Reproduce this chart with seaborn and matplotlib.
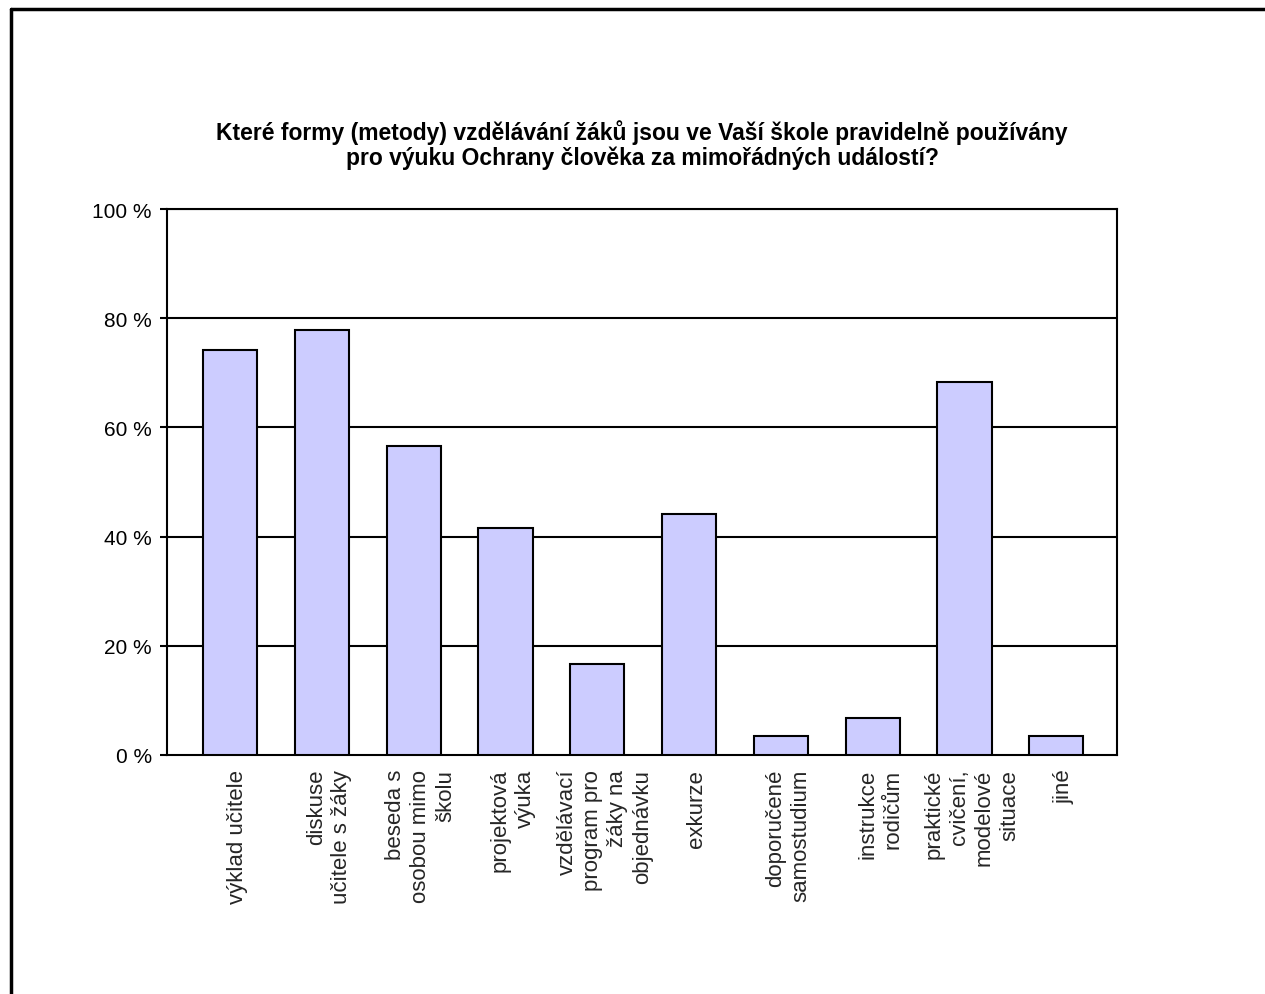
import numpy as np
import pandas as pd
import matplotlib
matplotlib.use("Agg")
import matplotlib.pyplot as plt
import seaborn as sns
from matplotlib.lines import Line2D


# Data (percent of schools)
categories = [
    "výklad učitele",
    "diskuse\nučitele s žáky",
    "beseda s\nosobou mimo\nškolu",
    "projektová\nvýuka",
    "vzdělávací\nprogram pro\nžáky na\nobjednávku",
    "exkurze",
    "doporučené\nsamostudium",
    "instrukce\nrodičům",
    "praktické\ncvičení,\nmodelové\nsituace",
    "jiné",
]
values = [74.2, 77.8, 56.6, 41.6, 16.7, 44.1, 3.5, 6.8, 68.3, 3.5]
y_ticks = [0, 20, 40, 60, 80, 100]
y_labels = ["0 %", "20 %", "40 %", "60 %", "80 %", "100 %"]

title = ("Které formy (metody) vzdělávání žáků jsou ve Vaší škole pravidelně používány\n"
         "pro výuku Ochrany člověka za mimořádných událostí?")

df = pd.DataFrame({"Forma": categories, "Procento": values})

sns.set_style("white")
plt.rcParams["font.family"] = ["Liberation Sans", "DejaVu Sans"]

fig = plt.figure(figsize=(12.65, 9.95), dpi=100)
ax = fig.add_axes([167 / 1265, 1 - 756 / 995, 950 / 1265, 546 / 995])

sns.barplot(data=df, x="Forma", y="Procento", color="#CCCCFF", saturation=1,
            width=0.59, edgecolor="black", linewidth=1.5, ax=ax, zorder=3)

# gridlines
for t in y_ticks[1:]:
    ax.axhline(t, color="black", lw=1.5, zorder=1)

ax.set_ylim(0, 100)
ax.set_xlim(-0.686, 9.66)
ax.set_yticks(y_ticks)
ax.set_yticklabels(y_labels, fontsize=15, color="black")
ax.tick_params(axis="y", length=5, width=1.5, color="black", pad=6, left=True)
ax.tick_params(axis="x", length=0)
ax.set_xticks([])
for i, lab in enumerate(categories):
    ax.text(i + 0.08, -2.5, lab, rotation=90, ha="center", va="top",
            multialignment="right", fontsize=16, linespacing=1.25)

for s in ax.spines.values():
    s.set_visible(True)
    s.set_color("black")
    s.set_linewidth(1.5)

ax.set_xlabel("")
ax.set_ylabel("")

fig.text(642 / 1265, 1 - 145 / 995, title, ha="center", va="center",
         fontsize=16.5, fontweight="bold", linespacing=1.1, color="black")

# outer chart frame (top and left edge visible)
fig.add_artist(Line2D([11 / 1265, 1], [1 - 10 / 995, 1 - 10 / 995],
                      transform=fig.transFigure, color="black", lw=2.5))
fig.add_artist(Line2D([11 / 1265, 11 / 1265], [0, 1 - 10 / 995],
                      transform=fig.transFigure, color="black", lw=2.5))

fig.savefig("out.png", dpi=100)
